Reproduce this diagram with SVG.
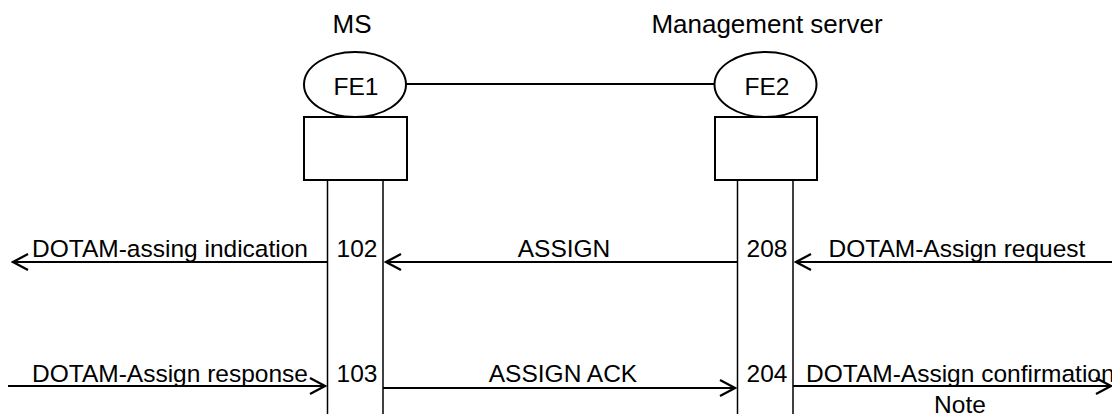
<svg xmlns="http://www.w3.org/2000/svg" width="1112" height="414" viewBox="0 0 1112 414">
<style>
text{font-family:"Liberation Sans",Arial,sans-serif;fill:#000}
.hdr{font-size:26px;text-anchor:middle}
.lbl{font-size:24.5px;text-anchor:middle}
.shape{fill:#fff;stroke:#000;stroke-width:2}
.life{stroke:#000;stroke-width:1.5;fill:none}
.msg{stroke:#000;stroke-width:2.2;fill:none}
</style>
<defs>
<marker id="open" viewBox="-18 -10 20 20" refX="0" refY="0" markerWidth="20" markerHeight="20" markerUnits="userSpaceOnUse" orient="auto">
<path d="M-15,-8 L0,0 L-15,8" fill="none" stroke="#000" stroke-width="2.2"/>
</marker>
</defs>
<g id="connectors">
<line class="msg" x1="406" y1="84" x2="714" y2="84"/>
<line class="msg" x1="327" y1="262" x2="13" y2="262" marker-end="url(#open)"/>
<line class="msg" x1="737" y1="262" x2="386" y2="262" marker-end="url(#open)"/>
<line class="msg" x1="1112" y1="262" x2="796" y2="262" marker-end="url(#open)"/>
<line class="msg" x1="8" y1="386" x2="325" y2="386" marker-end="url(#open)"/>
<line class="msg" x1="383" y1="388" x2="735" y2="388" marker-end="url(#open)"/>
<line class="msg" x1="793" y1="386" x2="1111" y2="386" marker-end="url(#open)"/>
</g>
<g id="ms">
<text class="hdr" x="352" y="33">MS</text>
<line class="life" x1="327.5" y1="180" x2="327.5" y2="414"/>
<line class="life" x1="383" y1="180" x2="383" y2="414"/>
<rect class="shape" x="304" y="117" width="103" height="63"/>
<ellipse class="shape" cx="355" cy="84.5" rx="51" ry="32.5"/>
<text class="lbl" x="356" y="95">FE1</text>
<text class="lbl" x="357" y="257">102</text>
<text class="lbl" x="357" y="382">103</text>
</g>
<g id="mgmt">
<text class="hdr" x="767" y="33">Management server</text>
<line class="life" x1="737.5" y1="180" x2="737.5" y2="414"/>
<line class="life" x1="793" y1="180" x2="793" y2="414"/>
<rect class="shape" x="715" y="117" width="102" height="63"/>
<ellipse class="shape" cx="765.5" cy="84.5" rx="51" ry="32.5"/>
<text class="lbl" x="767" y="95">FE2</text>
<text class="lbl" x="767" y="257">208</text>
<text class="lbl" x="767" y="382">204</text>
</g>
<g id="labels">
<text class="lbl" x="170" y="257">DOTAM-assing indication</text>
<text class="lbl" x="564" y="257">ASSIGN</text>
<text class="lbl" x="957" y="257">DOTAM-Assign request</text>
<text class="lbl" x="170" y="382">DOTAM-Assign response</text>
<text class="lbl" x="563" y="382">ASSIGN ACK</text>
<text x="806" y="382" style="font-size:24.5px">DOTAM-Assign confirmation</text>
<text class="lbl" x="960" y="413">Note</text>
</g>
</svg>
